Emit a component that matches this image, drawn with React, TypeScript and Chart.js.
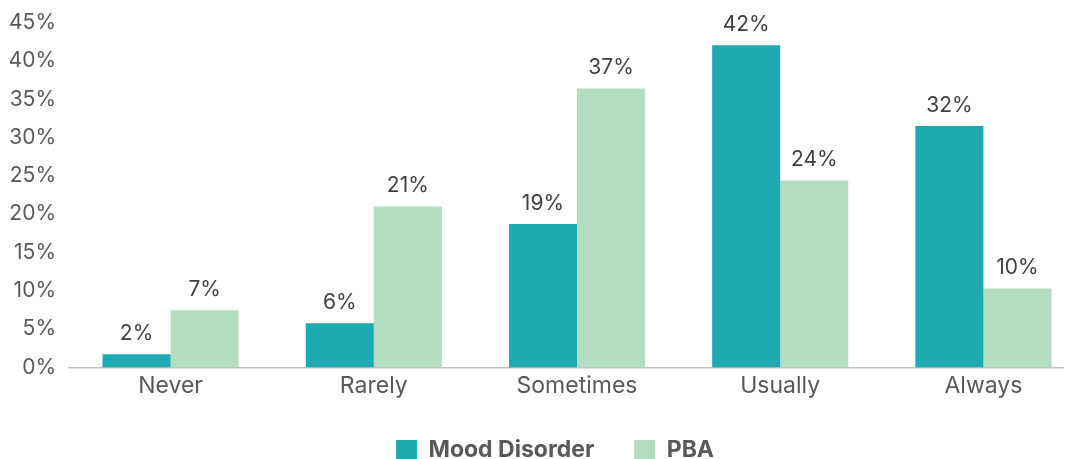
import React, { useEffect, useRef } from "react";
import { Chart, registerables } from "chart.js";

Chart.register(...registerables);

const categories = ["Never", "Rarely", "Sometimes", "Usually", "Always"];
const moodValues = [1.7, 5.75, 18.7, 42.05, 31.5];
const pbaValues = [7.45, 21.0, 36.4, 24.4, 10.3];
const moodLabels = ["2%", "6%", "19%", "42%", "32%"];
const pbaLabels = ["7%", "21%", "37%", "24%", "10%"];
const seriesNames = ["Mood Disorder", "PBA"];
const yTicksMax = 45;
const yTickStep = 5;

const TEAL = "#1FAAB3";
const GREEN = "#B3DDC0";
const FONT = "Inter, 'Noto Sans', sans-serif";

const valueLabelPlugin = {
  id: "valueLabels",
  afterLayout(chart: any) {
    // centre the legend on the full (uncropped) figure width and lift it a little
    if (chart.legend) {
      chart.legend.left += 15;
      chart.legend.top -= 6;
    }
  },
  afterDatasetsDraw(chart: any) {
    const ctx = chart.ctx;
    const labelSets = [moodLabels, pbaLabels];
    ctx.save();
    ctx.font = `21px ${FONT}`;
    ctx.fillStyle = "#404040";
    ctx.textAlign = "center";
    ctx.textBaseline = "alphabetic";
    chart.data.datasets.forEach((_ds: any, di: number) => {
      const meta = chart.getDatasetMeta(di);
      meta.data.forEach((el: any, i: number) => {
        ctx.fillText(labelSets[di][i], el.x, el.y - 14);
      });
    });
    ctx.restore();
  },
};

export default function App() {
  const ref = useRef<HTMLCanvasElement | null>(null);

  useEffect(() => {
    if (!ref.current) return;
    const chart = new Chart(ref.current, {
      type: "bar",
      data: {
        labels: categories,
        datasets: [
          {
            label: seriesNames[0],
            data: moodValues,
            backgroundColor: TEAL,
            borderWidth: 0,
            barPercentage: 1,
            categoryPercentage: 0.67,
          },
          {
            label: seriesNames[1],
            data: pbaValues,
            backgroundColor: GREEN,
            borderWidth: 0,
            barPercentage: 1,
            categoryPercentage: 0.67,
          },
        ],
      },
      options: {
        responsive: false,
        animation: false,
        layout: { padding: { left: 2, right: 13, top: 14.6, bottom: 0 } },
        plugins: {
          tooltip: { enabled: false },
          legend: {
            position: "bottom",
            labels: {
              boxWidth: 21,
              boxHeight: 21,
              padding: 40,
              color: "#595959",
              font: { family: FONT, size: 23, weight: "bold" },
            },
          },
        },
        scales: {
          x: {
            grid: { display: false, drawTicks: false },
            border: { display: true, color: "#BFBFBF", width: 1.5 },
            ticks: {
              color: "#595959",
              padding: 5,
              font: { family: FONT, size: 23 },
            },
          },
          y: {
            min: 0,
            max: yTicksMax,
            grid: { display: false, drawTicks: false },
            border: { display: false },
            afterFit: (scale: any) => {
              scale.width = 59;
              scale.paddingTop = 0;
              scale.paddingBottom = 0;
            },
            ticks: {
              stepSize: yTickStep,
              color: "#595959",
              padding: 13,
              font: { family: FONT, size: 21 },
              callback: (v: any) => `${v}%`,
            },
          },
        },
      },
      plugins: [valueLabelPlugin],
    });
    return () => chart.destroy();
  }, []);

  return (
    <div style={{ width: 1064, height: 451, overflow: "hidden" }}>
      <canvas ref={ref} width={1090} height={470} style={{ display: "block" }} />
    </div>
  );
}
